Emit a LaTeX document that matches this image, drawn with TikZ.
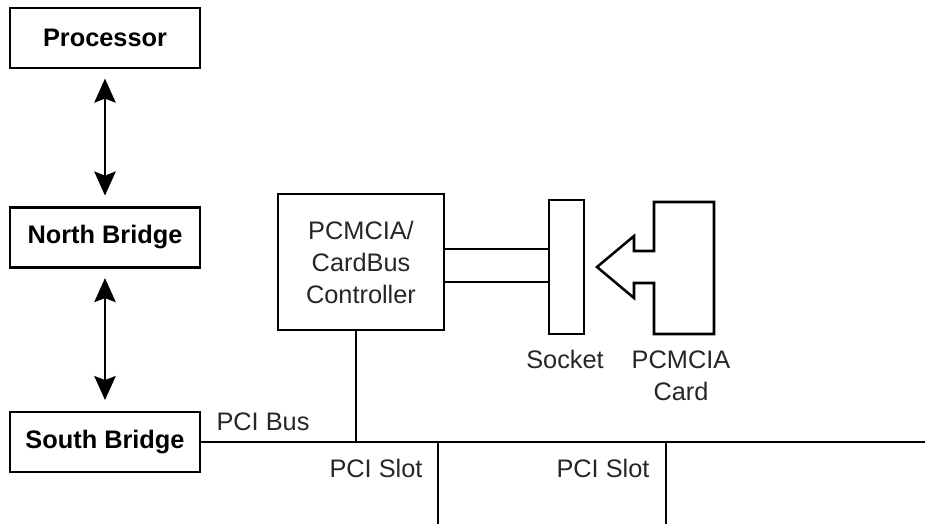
\documentclass[tikz,border=0pt]{standalone}
\usepackage{fontspec}
\setmainfont{Liberation Sans}
\usetikzlibrary{arrows.meta}

\begin{document}
\begin{tikzpicture}[x=0.75pt, y=-0.75pt, line width=1.9pt,
    chip/.style={draw, font=\fontsize{19}{24}\selectfont\bfseries, minimum width=142.5pt, minimum height=45pt, inner sep=0pt},
    lbl/.style={font=\fontsize{19}{24}\selectfont, text=black!85, align=center, inner sep=0pt},
    link/.style={{Stealth[length=18pt,width=16pt,inset=3pt]}-{Stealth[length=18pt,width=16pt,inset=3pt]}, shorten <=7pt, shorten >=8pt}]
    \useasboundingbox (0,0) rectangle (925,524);
    \node[chip] (proc) at (105,38) {Processor};
    \node[chip] (nb) at (105,237.5) {North Bridge};
    \node[chip] (sb) at (105,442) {South Bridge};
    \node[draw, lbl, minimum width=124.5pt, minimum height=102pt] (ctrl) at (361,262) {PCMCIA/\\CardBus\\Controller};
    \node[draw, minimum width=26.25pt, minimum height=100.5pt, inner sep=0pt] (sock) at (566.5,267) {};
    \draw[link] (proc) -- (nb);
    \draw[link] (nb) -- (sb);
    % PCI bus and slots
    \coordinate (busend) at (925,442);
    \coordinate (tap) at (356,442);
    \coordinate (slotA) at (438,442);
    \coordinate (slotAend) at (438,524);
    \coordinate (slotB) at (666,442);
    \coordinate (slotBend) at (666,524);
    \draw (sb) -- (busend);
    \draw (ctrl.south -| tap) -- (tap);
    \draw (slotA) -- (slotAend);
    \draw (slotB) -- (slotBend);
    % controller to socket
    \draw (ctrl.east |- 0,249) -- (sock.west |- 0,249);
    \draw (ctrl.east |- 0,282) -- (sock.west |- 0,282);
    % card with its plug-in arrow
    \draw (654,202) -- (714,202) -- (714,334) -- (654,334) -- (654,283) -- (634,283) -- (634,298)
      -- (597,267) -- (634,236) -- (634,251) -- (654,251) -- cycle;
    \node[lbl] (buslbl) at (263,422) {PCI Bus};
    \node[lbl] (slotAlbl) at (376,468) {PCI Slot};
    \node[lbl] (slotBlbl) at (603,468) {PCI Slot};
    \node[lbl] (socklbl) at (565,359) {Socket};
    \node[lbl] (cardlbl) at (681,375.5) {PCMCIA\\Card};
  \end{tikzpicture}
\end{document}
